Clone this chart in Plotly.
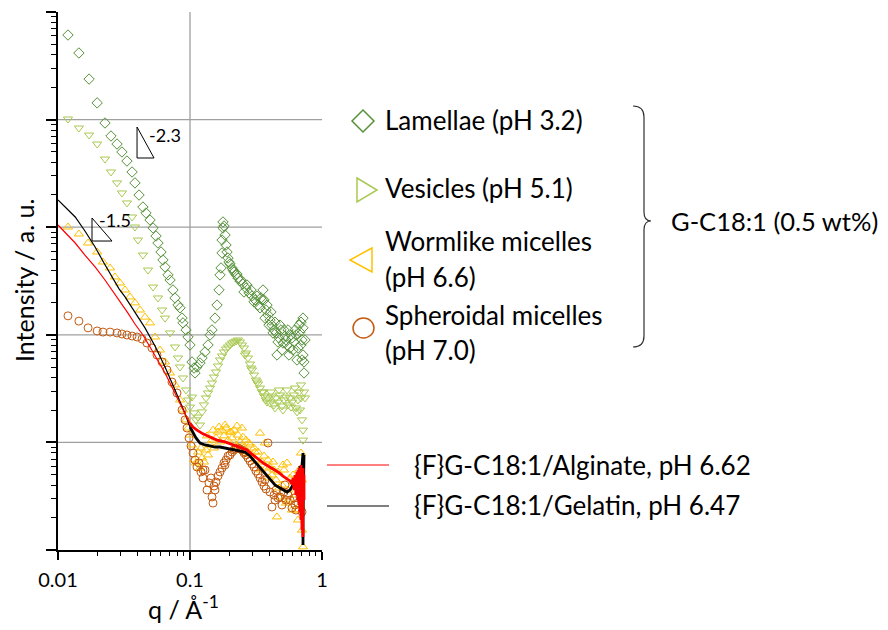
import plotly.graph_objects as go

# ---------------- data (q in 1/Angstrom, intensity in arbitrary units) ----------------
LAM_Q = [0.0119, 0.0144, 0.0172, 0.0198, 0.0227, 0.0252, 0.0280, 0.0305, 0.0333, 0.0364,
         0.0383, 0.0411, 0.0440, 0.0464, 0.0498, 0.0525, 0.0553, 0.0572, 0.0603, 0.0624,
         0.0647, 0.0681, 0.0706, 0.0743, 0.0770, 0.0811, 0.0840, 0.0870, 0.0885, 0.0933,
         0.0966, 0.1000, 0.1036, 0.1072, 0.1091, 0.1130, 0.1191, 0.1233, 0.1299, 0.1369,
         0.1418, 0.1468, 0.1547, 0.1602, 0.1659, 0.1688, 0.1718, 0.1748, 0.1748, 0.1778,
         0.1778, 0.1810, 0.1842, 0.1874, 0.1907, 0.1941, 0.2010, 0.2081, 0.2154, 0.2231,
         0.2310, 0.2392, 0.2520, 0.2656, 0.2799, 0.2949, 0.3108, 0.3275, 0.3451, 0.3573,
         0.3636, 0.3765, 0.3898, 0.4037, 0.4180, 0.4329, 0.4482, 0.4561, 0.4723, 0.4891,
         0.5064, 0.5244, 0.5430, 0.5526, 0.5722, 0.5925, 0.6136, 0.6353, 0.6579, 0.6813,
         0.6933, 0.7055, 0.7179, 0.7179, 0.7305, 0.7305,
         0.1975, 0.2117, 0.2270, 0.2434, 0.2565, 0.2702, 0.2899, 0.3054, 0.3218, 0.3391,
         0.3511, 0.3700, 0.3831, 0.3967, 0.4108, 0.4254, 0.4405, 0.4642, 0.4806, 0.4977,
         0.5154, 0.5337, 0.5623, 0.5824, 0.6030, 0.6244, 0.6466, 0.6695, 0.6933, 0.7055,
         0.7179, 0.7434]
LAM_I = [61100, 41600, 23800, 14300, 9300, 7040, 5930, 5000, 4120, 3260,
         2580, 1990, 1540, 1355, 1166, 983, 828, 713, 588, 496,
         427, 360, 323, 261, 220, 189, 178, 143, 129, 111,
         95.4, 80.4, 55.9, 49.1, 44.2, 50.2, 54.7, 60.9, 69.2, 80.4,
         99.6, 111, 143, 189, 261, 360, 418, 576, 760, 983,
         1118, 1026, 846, 683, 588, 517, 455, 418, 383, 360,
         337, 316, 297, 272, 245, 229, 211, 189, 220, 261,
         211, 170, 153, 137, 123, 111, 104, 64.9, 93.4, 111,
         83.9, 97.4, 80.4, 111, 75.4, 93.4, 85.7, 99.6, 75.4, 106,
         131, 89.5, 116, 64.9, 55.9, 44.2,
         475, 400, 367, 323, 250, 290, 261, 202, 229, 178,
         211, 143, 189, 123, 163, 104, 131, 85.7, 123, 72.2,
         111, 89.5, 64.9, 99.6, 72.2, 111, 58.3, 123, 80.4, 58.3,
         143, 89.5]

VES_Q = [0.0119, 0.0144, 0.0172, 0.0198, 0.0227, 0.0252, 0.0280, 0.0305, 0.0333, 0.0364,
         0.0383, 0.0404, 0.0440, 0.0481, 0.0525, 0.0572, 0.0614, 0.0647, 0.0706, 0.0770,
         0.0811, 0.0840, 0.0885, 0.0933, 0.0966, 0.1000,
         0.1036, 0.1072, 0.1110, 0.1150, 0.1191, 0.1233, 0.1276, 0.1322, 0.1369, 0.1418,
         0.1468, 0.1520, 0.1574, 0.1630, 0.1688, 0.1748, 0.1810, 0.1874, 0.1941, 0.2010,
         0.2081, 0.2154, 0.2231, 0.2310, 0.2392, 0.2477, 0.2565, 0.2656, 0.2750, 0.2848,
         0.2949, 0.3054, 0.3162, 0.3275, 0.3391, 0.3511, 0.3636, 0.3765, 0.3898, 0.4037,
         0.4180, 0.4329, 0.4482, 0.4642, 0.4806, 0.4977, 0.5154, 0.5337, 0.5526, 0.5722,
         0.5925, 0.6136, 0.6353, 0.6579,
         0.6695, 0.6813, 0.6933, 0.7055, 0.7179, 0.7179, 0.7305,
         0.2610, 0.2899, 0.3218, 0.3573, 0.3831, 0.4108, 0.4405, 0.4723, 0.5064, 0.5430,
         0.5824, 0.6244, 0.6466, 0.6933, 0.7434]
VES_I = [10130, 8350, 7190, 5930, 4300, 3260, 2580, 2080, 1680, 1244,
         1004, 760, 551, 400, 278, 220, 170, 143, 104, 77.0,
         60.9, 50.2, 39.7, 30.7, 24.8, 21.3,
         26.4, 18.8, 16.2, 17.2, 14.5, 19.2, 22.3, 25.9, 28.8, 32.0,
         35.6, 40.5, 45.1, 51.3, 58.3, 63.5, 69.2, 73.8, 77.0, 80.4,
         83.9, 85.7, 87.6, 89.5, 85.7, 80.4, 75.4, 67.7, 60.9, 53.5,
         47.1, 42.3, 38.0, 34.9, 32.0, 29.4, 27.0, 24.8, 25.9, 23.2,
         27.0, 22.3, 25.9, 23.7, 27.6, 21.8, 24.8, 26.4, 22.3, 25.9,
         23.7, 27.6, 20.9, 24.8,
         29.4, 20.0, 25.9, 16.2, 13.0, 10.5, 29.4,
         64.9, 49.1, 36.4, 29.4, 23.7, 29.4, 20.9, 30.7, 20.0, 30.7,
         21.3, 32.0, 19.2, 34.2, 25.9]

WRM_Q = [0.0119, 0.0144, 0.0169, 0.0198, 0.0219, 0.0248, 0.0270, 0.0295, 0.0322, 0.0351,
         0.0383, 0.0418, 0.0456, 0.0498, 0.0543, 0.0593, 0.0647, 0.0706, 0.0770, 0.0840,
         0.0885, 0.0933, 0.0966, 0.1000, 0.1036, 0.1072,
         0.1110, 0.1150, 0.1191, 0.1233, 0.1276, 0.1322, 0.1369, 0.1418, 0.1468, 0.1520,
         0.1574, 0.1630, 0.1688, 0.1748, 0.1810, 0.1874, 0.1941, 0.2010, 0.2081, 0.2154,
         0.2231, 0.2310, 0.2392, 0.2477, 0.2565, 0.2656, 0.2750, 0.2848, 0.2949, 0.3054,
         0.3162, 0.3275, 0.3391, 0.3511, 0.3636, 0.3765, 0.3898, 0.4037, 0.4180, 0.4329,
         0.4482,
         0.4561, 0.4642, 0.4806, 0.4977, 0.5154, 0.5337, 0.5430, 0.5526, 0.5722, 0.5925,
         0.6136, 0.6353, 0.6579, 0.6695, 0.6813, 0.6933, 0.7055, 0.7055, 0.7179,
         0.1211, 0.1345, 0.1494, 0.1659, 0.1842, 0.2045, 0.2270, 0.2520, 0.2799, 0.3108,
         0.3451, 0.3700, 0.3967, 0.4254, 0.4723, 0.5064, 0.5623, 0.6030, 0.6466, 0.6813]
WRM_I = [1004, 865, 713, 588, 475, 418, 345, 303, 261, 225,
         198, 170, 146, 129, 95.4, 72.2, 55.9, 44.2, 34.2, 24.8,
         20.0, 16.2, 13.6, 11.7, 9.46, 6.86,
         6.44, 8.14, 5.78, 7.16, 6.57, 8.50, 7.64, 9.46, 10.5, 8.87,
         11.0, 12.5, 10.1, 13.0, 11.5, 13.6, 10.5, 12.5, 11.0, 13.0,
         9.46, 11.7, 10.1, 13.6, 8.87, 10.5, 8.14, 9.46, 7.64, 8.87,
         6.86, 8.14, 12.2, 6.57, 7.47, 5.78, 6.86, 5.91, 4.98, 5.54,
         4.47,
         2.03, 5.31, 3.11, 4.02, 5.54, 2.73, 6.44, 3.61, 4.67, 2.35,
         4.29, 3.24, 1.90, 5.54, 2.62, 7.97, 1.53, 4.47, 1.07,
         8.87, 11.5, 13.0, 13.9, 14.5, 12.5, 14.2, 11.2, 9.87, 8.14,
         5.54, 9.87, 4.67, 6.57, 3.77, 6.17, 2.91, 4.98, 2.35, 3.61]

SPH_Q = [0.0119, 0.0144, 0.0169, 0.0198, 0.0219, 0.0248, 0.0280, 0.0305, 0.0333, 0.0364,
         0.0397, 0.0433, 0.0472, 0.0515, 0.0562, 0.0614, 0.0670, 0.0730, 0.0797, 0.0870,
         0.0917, 0.0949, 0.0983, 0.1018, 0.1054, 0.1091, 0.1130, 0.1170, 0.1211, 0.1254,
         0.1299, 0.1345, 0.1393, 0.1442, 0.1468, 0.1494, 0.1520,
         0.1574, 0.1630, 0.1688, 0.1748, 0.1810, 0.1874, 0.1941, 0.2010, 0.2081, 0.2154,
         0.2231, 0.2310, 0.2392, 0.2477, 0.2565, 0.2656, 0.2750, 0.2848, 0.2949, 0.3054,
         0.3162, 0.3275, 0.3391, 0.3511, 0.3636, 0.3765, 0.3898, 0.4037, 0.4180, 0.4329,
         0.4482, 0.4642, 0.4806, 0.4977, 0.5154, 0.5337, 0.5526, 0.5722, 0.5925, 0.6136,
         0.6353, 0.6579, 0.6813, 0.7055,
         0.1254, 0.1547, 0.1842, 0.2610, 0.3700, 0.4405, 0.5244, 0.6244]
SPH_I = [150, 134, 116, 108.5, 106, 106, 104, 101.7, 99.6, 97.4,
         95.4, 91.4, 83.9, 75.4, 64.9, 55.9, 47.1, 36.4, 28.8, 20.0,
         16.2, 13.6, 11.0, 9.26, 7.97, 6.86, 5.91, 6.44, 5.31, 4.67,
         5.54, 3.61, 4.20, 4.67, 3.11, 2.73, 3.93,
         4.29, 4.87, 5.31, 5.78, 6.44, 6.86, 7.47, 7.64, 8.14, 8.50,
         8.68, 8.87, 8.68, 8.50, 7.97, 7.64, 7.16, 6.72, 6.30, 5.91,
         5.42, 5.09, 4.67, 4.29, 3.93, 3.69, 9.87, 3.46, 2.51, 3.24,
         3.61, 3.04, 3.11, 2.62, 3.46, 2.91, 3.24, 2.91, 2.46, 3.04,
         2.35, 2.73, 3.11, 2.26,
         5.54, 3.61, 6.17, 8.14, 4.47, 2.91, 4.02, 2.62]

ALG_Q = [0.0100, 0.0113, 0.0135, 0.0160, 0.0191, 0.0227, 0.0257, 0.0295, 0.0339, 0.0383,
         0.0440, 0.0498, 0.0572, 0.0647, 0.0730, 0.0811, 0.0885,
         0.0949, 0.1000, 0.1054, 0.1130, 0.1254, 0.1418, 0.1602, 0.1842, 0.2117, 0.2392,
         0.2702, 0.3001, 0.3275, 0.3573, 0.3898, 0.4254, 0.4642, 0.5064, 0.5430, 0.5722,
         0.5925,
         0.6030, 0.6136, 0.6244, 0.6353, 0.6466, 0.6579, 0.6579, 0.6695, 0.6695, 0.6813,
         0.6813, 0.6933, 0.6933, 0.7055, 0.7055, 0.7179, 0.7179, 0.7305, 0.7305]
ALG_I = [1048, 902, 713, 551, 427, 323, 261, 202, 159, 126,
         99.6, 77.0, 58.3, 44.2, 32.7, 24.8, 20.0,
         16.9, 15.1, 13.9, 13.0, 12.0, 11.2, 10.5, 10.1, 9.46, 9.06,
         8.50, 7.64, 7.01, 6.44, 6.03, 5.66, 5.31, 4.87, 4.57, 4.38,
         4.11,
         4.67, 3.61, 4.98, 3.24, 5.31, 2.91, 5.54, 2.62, 5.78, 2.26,
         5.54, 1.90, 6.17, 1.53, 5.54, 1.32, 5.78, 2.91, 4.98]

GEL_Q = [0.0100, 0.0113, 0.0135, 0.0160, 0.0191, 0.0223, 0.0257, 0.0290, 0.0322, 0.0383,
         0.0456, 0.0543, 0.0647, 0.0770, 0.0840, 0.0901, 0.0949, 0.1000,
         0.1054, 0.1110, 0.1191, 0.1299, 0.1418, 0.1547, 0.1688, 0.1842, 0.2010, 0.2193,
         0.2392, 0.2610, 0.2848, 0.3108, 0.3391, 0.3700, 0.4037, 0.4405, 0.4806, 0.5154,
         0.5430, 0.5722, 0.5925,
         0.6136, 0.6353, 0.6466, 0.6579, 0.6695, 0.6813, 0.6933, 0.7055, 0.7179, 0.7179,
         0.7305, 0.7179, 0.7179]
GEL_I = [1789, 1540, 1244, 922, 655, 465, 345, 267, 225, 163,
         116, 78.7, 50.2, 30.7, 24.3, 19.6, 16.5, 13.9,
         12.2, 11.0, 9.87, 9.46, 9.26, 9.06, 9.06, 8.87, 8.68, 8.50,
         8.32, 8.14, 7.47, 6.57, 5.78, 5.09, 4.47, 4.02, 3.77, 3.61,
         3.46, 3.61, 3.85,
         4.20, 4.47, 3.77, 5.31, 4.02, 6.03, 4.67, 7.16, 7.97, 5.54,
         7.64, 1.90, 1.11]

# slope guide triangles (q, I) and their labels
SLOPE_A_Q = [0.0397, 0.0397, 0.0534, 0.0397]
SLOPE_A_I = [8535, 4397, 4397, 8535]
SLOPE_A_LABEL = "-2.3"
SLOPE_B_Q = [0.0181, 0.0181, 0.02565, 0.0181]
SLOPE_B_I = [1218, 744, 744, 1218]
SLOPE_B_LABEL = "-1.5"

X_TICKS = [0.01, 0.1, 1]
X_TICKTEXT = ["0.01", "0.1", "1"]
Y_GRID = [10, 100, 1000, 10000]

SERIES_NAMES = ["Lamellae (pH 3.2)", "Vesicles (pH 5.1)", "Wormlike micelles", "(pH 6.6)",
                "Spheroidal micelles", "(pH 7.0)"]
GROUP_LABEL = "G-C18:1 (0.5 wt%)"
LINE_NAMES = ["{F}G-C18:1/Alginate, pH 6.62", "{F}G-C18:1/Gelatin, pH 6.47"]

# ---------------- styles ----------------
C_LAM = "#56923a"
C_VES = "#a9c952"
C_WRM = "#ffc000"
C_SPH = "#c55a11"
C_ALG = "#ff0000"
C_GEL = "#000000"
FONT = "Lato, 'Open Sans', sans-serif"

# page body has an 8px margin; the figure is sized to fill the rest of the window
W, H = 880, 622
OFF = 8
# plot area in window pixels: x 58..322, y 12..550
L, R, T, B = 58, 322, 12, 550
def X(px):
    return (px - L) / (R - L)
def Y(py):
    return (B - py) / (B - T)

fig = go.Figure()

def add_markers(q, i, symbol, color, size):
    fig.add_trace(go.Scatter(x=q, y=i, mode="markers", hoverinfo="skip",
                             marker=dict(symbol=symbol, size=size, color=color,
                                         line=dict(width=1, color=color))))

add_markers(LAM_Q, LAM_I, "diamond-open", C_LAM, 8)
add_markers(VES_Q, VES_I, "triangle-down-open", C_VES, 8)
add_markers(WRM_Q, WRM_I, "triangle-up-open", C_WRM, 8)
add_markers(SPH_Q, SPH_I, "circle-open", C_SPH, 8)

def add_line(q, i, color, split=0.105):
    lo = [k for k, v in enumerate(q) if v < split]
    hi_start = max(lo)
    fig.add_trace(go.Scatter(x=q[:hi_start + 1], y=i[:hi_start + 1], mode="lines",
                             hoverinfo="skip", line=dict(color=color, width=1.2)))
    fig.add_trace(go.Scatter(x=q[hi_start:], y=i[hi_start:], mode="lines",
                             hoverinfo="skip", line=dict(color=color, width=2.8)))

add_line(GEL_Q, GEL_I, C_GEL)
add_line(ALG_Q, ALG_I, C_ALG)

for sq, si in ((SLOPE_A_Q, SLOPE_A_I), (SLOPE_B_Q, SLOPE_B_I)):
    fig.add_trace(go.Scatter(x=sq, y=si, mode="lines", hoverinfo="skip",
                             line=dict(color="black", width=1)))

shapes = []
GRID_C = "#a0a0a0"
for g in Y_GRID:
    shapes.append(dict(type="line", xref="paper", yref="y", x0=0, x1=1, y0=g, y1=g,
                       line=dict(color=GRID_C, width=1.3), layer="below"))
shapes.append(dict(type="line", xref="x", yref="paper", x0=0.1, x1=0.1, y0=0, y1=1,
                   line=dict(color=GRID_C, width=1.3), layer="below"))

def poly(points, color):
    d = "M " + " L ".join(f"{X(a):.5f},{Y(b):.5f}" for a, b in points) + " Z"
    return dict(type="path", xref="paper", yref="paper", path=d,
                line=dict(color=color, width=1.5), fillcolor="rgba(0,0,0,0)")

# custom legend markers
shapes.append(poly([(352, 121), (363, 110), (374, 121), (363, 132)], C_LAM))
shapes.append(poly([(357, 178), (377, 190), (357, 202)], C_VES))
shapes.append(poly([(372, 248), (350, 260), (372, 272)], C_WRM))
shapes.append(dict(type="circle", xref="paper", yref="paper", x0=X(353), x1=X(374),
                   y0=Y(338), y1=Y(318), line=dict(color=C_SPH, width=1.5)))
shapes.append(dict(type="line", xref="paper", yref="paper", x0=X(327), x1=X(389),
                   y0=Y(465), y1=Y(465), line=dict(color=C_ALG, width=1)))
shapes.append(dict(type="line", xref="paper", yref="paper", x0=X(327), x1=X(389),
                   y0=Y(506), y1=Y(506), line=dict(color=C_GEL, width=1)))
# brace
brace = (f"M {X(633)},{Y(106)} Q {X(644)},{Y(106)} {X(644)},{Y(117)} "
         f"L {X(644)},{Y(212)} Q {X(644)},{Y(221)} {X(651)},{Y(221)} "
         f"Q {X(644)},{Y(221)} {X(644)},{Y(230)} L {X(644)},{Y(336)} "
         f"Q {X(644)},{Y(347)} {X(633)},{Y(347)}")
shapes.append(dict(type="path", xref="paper", yref="paper", path=brace,
                   line=dict(color="#303030", width=1.2)))

ann = []
def text(t, px, py, size, xanchor="left", angle=0):
    ann.append(dict(text=t, x=X(px), y=Y(py), xref="paper", yref="paper", showarrow=False,
                    xanchor=xanchor, yanchor="middle", textangle=angle,
                    font=dict(family=FONT, size=size, color="black")))

LEG_Y = [120, 188, 241, 277, 315, 350]
for name, yy in zip(SERIES_NAMES, LEG_Y):
    text(name, 383, yy, 26)
text(GROUP_LABEL, 669, 221, 25.5)
text(LINE_NAMES[0], 412, 465, 26)
text(LINE_NAMES[1], 412, 505, 26)
text(SLOPE_A_LABEL, 147, 135, 18)
text(SLOPE_B_LABEL, 97, 220, 18)
text("q / Å<sup>-1</sup>", 183, 607, 25, xanchor="center")
text("Intensity / a. u.", 24, 281, 25, xanchor="center", angle=-90)

fig.update_layout(
    width=W, height=H,
    margin=dict(l=L - OFF, r=W - (R - OFF), t=T - OFF, b=H - (B - OFF), pad=0),
    paper_bgcolor="white", plot_bgcolor="white",
    showlegend=False, shapes=shapes, annotations=ann,
    font=dict(family=FONT, color="black"),
    xaxis=dict(type="log", range=[-2, 0], tickmode="array", tickvals=X_TICKS,
               ticktext=X_TICKTEXT, ticks="outside", ticklen=8, tickwidth=1.5,
               tickcolor="black", showline=True, linecolor="black", linewidth=2,
               showgrid=False, zeroline=False, ticklabelstandoff=3,
               tickfont=dict(family=FONT, size=20, color="black"),
               minor=dict(ticks="outside", ticklen=4, tickwidth=1, tickcolor="black",
                          dtick="D1", showgrid=False)),
    yaxis=dict(type="log", range=[0, 5], dtick=1, showticklabels=False,
               ticks="outside", ticklen=10, tickwidth=1.5, tickcolor="black",
               showline=True, linecolor="black", linewidth=2,
               showgrid=False, zeroline=False,
               minor=dict(ticks="outside", ticklen=5, tickwidth=1, tickcolor="black",
                          dtick="D1", showgrid=False)),
)

fig.write_html("out.html")
